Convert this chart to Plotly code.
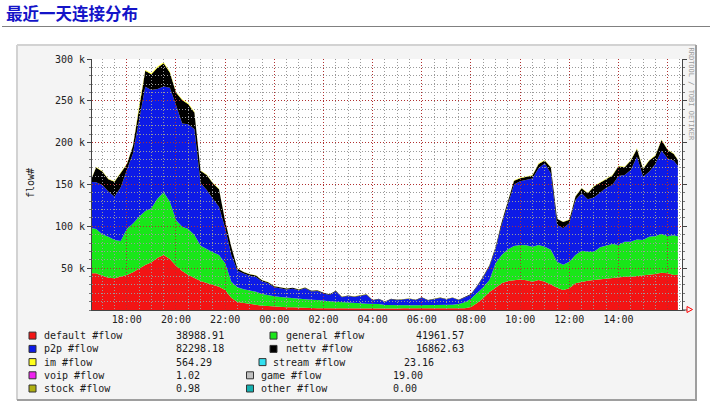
import plotly.graph_objects as go
from datetime import datetime, timedelta

# ---------------- data (values in thousands of flows) ----------------
sample_times = [
    "16:35", "16:45",
    "17:00", "17:15", "17:30", "17:45", "18:00", "18:15", "18:30", "18:45",
    "19:00", "19:15", "19:30", "19:45", "20:00", "20:15", "20:30", "20:45",
    "21:00", "21:15", "21:30", "21:45", "22:00", "22:15", "22:30", "22:45",
    "23:00", "23:15", "23:30", "23:45", "00:00", "00:15", "00:30", "00:45",
    "01:00", "01:15", "01:30", "01:45", "02:00", "02:15", "02:30", "02:45",
    "03:00", "03:15", "03:30", "03:45", "04:00", "04:15", "04:30", "04:45",
    "05:00", "05:15", "05:30", "05:45", "06:00", "06:15", "06:30", "06:45",
    "07:00", "07:15", "07:30", "07:45", "08:00", "08:15", "08:30", "08:45",
    "09:00", "09:15", "09:30", "09:45", "10:00", "10:15", "10:30", "10:45",
    "11:00", "11:15", "11:30", "11:45", "12:00", "12:15", "12:30", "12:45",
    "13:00", "13:15", "13:30", "13:45", "14:00", "14:15", "14:30", "14:45",
    "15:00", "15:15", "15:30", "15:45", "16:00", "16:15", "16:25",
]

default_k = [
    43.8, 43.8, 41.0, 38.6, 37.8, 39.4, 41.8, 45.0, 49.8, 53.8, 57.0, 62.5,
    65.7, 61.0, 53.0, 46.6, 41.8, 37.8, 34.7, 32.3, 29.9, 27.9, 23.9, 14.7,
    9.6, 8.4, 7.2, 6.0, 5.2, 4.8, 4.0, 3.6, 3.2, 3.2, 2.8, 2.8, 2.4, 2.2, 2.2,
    2.1, 2.0, 2.1, 1.9, 2.0, 2.0, 1.9, 2.0, 2.0, 1.9,
    2.0, 1.9, 2.0, 2.0, 1.9, 2.0, 2.0, 2.0, 2.1, 2.0, 2.0, 2.0,
    2.2, 3.6, 8.4, 14.3, 21.5, 26.7, 31.9, 34.6, 35.9, 36.6, 35.5,
    33.9, 35.9, 33.9, 30.5, 26.7, 23.9, 25.9, 31.9, 33.9, 35.1, 35.9, 36.7,
    37.8, 37.8, 39.0, 39.8, 39.8, 40.6, 41.8, 41.8, 43.0, 44.6, 43.8, 41.8, 42.0,
]
general_k = [
    53.8, 53.0, 49.4, 49.0, 45.8, 43.0, 55.0, 58.5, 61.7, 64.5, 64.5, 70.9,
    74.9, 68.5, 54.6, 53.0, 55.0, 51.8, 42.2, 40.2, 39.0, 37.8, 31.9, 19.2,
    17.5, 16.3, 15.9, 15.9, 13.9, 12.7, 12.3, 11.9, 11.5, 11.1, 11.1, 10.3,
    9.9, 9.8, 8.6, 8.4, 8.0, 7.2, 6.8, 6.4, 6.0, 5.6, 5.2, 5.2, 4.0,
    3.6, 3.6, 3.6, 3.6, 3.8, 3.8, 3.8, 3.8, 4.0, 4.0, 4.4, 5.2,
    7.0, 9.9, 11.9, 12.8, 14.4, 29.1, 33.8, 37.9, 40.6, 41.1, 41.8,
    41.8, 41.8, 41.8, 41.5, 31.1, 30.3, 31.9, 33.8, 37.0, 34.6, 33.8, 38.2,
    38.7, 41.1, 38.7, 41.9, 41.9, 43.8, 41.9, 45.8, 45.4, 46.2, 44.6, 47.4, 46.0,
]
p2p_k = [
    55.4, 55.8, 59.0, 53.9, 51.9, 63.9, 70.5, 83.7, 115.5, 148.6, 141.4, 130.6,
    126.4, 136.2, 137.4, 123.4, 125.2, 126.4, 74.5, 70.9, 63.8, 57.8, 41.8, 31.8,
    19.9, 18.8, 17.9, 17.6, 14.9, 14.5, 11.0, 10.3, 9.9, 11.1, 9.6, 12.8,
    9.7, 10.8, 8.9, 7.4, 12.1, 5.9, 7.9, 7.1, 9.1, 10.7, 4.2, 5.6, 3.8,
    7.3, 6.2, 6.9, 7.7, 6.0, 8.7, 5.6, 7.5, 8.3, 6.5, 8.1, 4.6,
    6.0, 4.8, 7.7, 11.9, 16.1, 17.2, 36.3, 54.5, 73.5, 76.3, 78.2,
    81.6, 91.6, 99.6, 91.0, 43.8, 43.4, 45.8, 65.8, 68.5, 62.6, 64.9, 65.3,
    69.7, 70.5, 82.4, 79.6, 85.6, 98.8, 75.6, 77.7, 86.1, 99.6, 92.8, 89.3, 84.0,
]
nettv_k = [
    5.4, 17.7, 16.0, 14.9, 17.9, 17.1, 7.0, 9.0, 17.0, 19.0, 19.0, 25.8,
    27.8, 18.2, 15.0, 28.0, 24.0, 20.1, 14.9, 17.9, 18.7, 20.9, 8.9, 9.9,
    2.5, 2.0, 1.7, 1.6, 1.6, 1.3, 1.2, 1.1, 1.1, 1.1, 1.0, 1.0,
    0.9, 0.9, 0.9, 0.8, 0.9, 0.7, 0.7, 0.7, 0.7, 0.7, 0.5, 0.6, 0.5,
    0.5, 0.5, 0.6, 0.5, 0.5, 0.6, 0.5, 0.5, 0.6, 0.5, 0.5, 0.5,
    0.6, 0.7, 1.0, 1.4, 1.6, 2.4, 3.1, 3.5, 4.4, 3.4, 3.9,
    3.4, 5.3, 3.3, 7.3, 7.5, 7.6, 4.4, 4.3, 6.2, 7.3, 13.0, 11.8,
    10.5, 11.3, 11.7, 9.3, 11.3, 9.2, 9.3, 13.3, 10.0, 12.7, 9.9, 7.9, 7.3,
]
im_k = [
    0.6, 0.7, 0.6, 0.6, 0.6, 0.6, 0.7, 0.8, 1.0, 1.1, 1.1, 1.2,
    1.2, 1.1, 1.0, 1.0, 1.0, 0.9, 0.7, 0.7, 0.6, 0.6, 0.5, 0.4,
    0.3, 0.3, 0.3, 0.3, 0.2, 0.2, 0.2, 0.2, 0.2, 0.2, 0.2, 0.2,
    0.2, 0.2, 0.1, 0.1, 0.1, 0.1, 0.1, 0.1, 0.1, 0.1, 0.1, 0.1, 0.1,
    0.1, 0.1, 0.1, 0.1, 0.1, 0.1, 0.1, 0.1, 0.1, 0.1, 0.1, 0.1,
    0.1, 0.1, 0.1, 0.2, 0.2, 0.3, 0.4, 0.5, 0.6, 0.6, 0.6,
    0.6, 0.7, 0.7, 0.7, 0.4, 0.4, 0.4, 0.5, 0.6, 0.6, 0.6, 0.6,
    0.6, 0.6, 0.7, 0.7, 0.7, 0.8, 0.7, 0.7, 0.7, 0.8, 0.8, 0.8, 0.7,
]

legend_names = ["default #flow", "general #flow", "p2p #flow", "nettv #flow",
                "im #flow", "stream #flow", "voip #flow", "game #flow",
                "stock #flow", "other #flow"]
legend_values = ["38988.91", "41961.57", "82298.18", "16862.63", "564.29",
                 "23.16", "1.02", "19.00", "0.98", "0.00"]

x_tick_labels = ["18:00", "20:00", "22:00", "00:00", "02:00", "04:00",
                 "06:00", "08:00", "10:00", "12:00", "14:00"]
y_tick_values = [50000, 100000, 150000, 200000, 250000, 300000]
y_tick_labels = ["50 k", "100 k", "150 k", "200 k", "250 k", "300 k"]

# ---------------- styles ----------------
colors = {
    "default #flow": "#f21414", "general #flow": "#19e619", "p2p #flow": "#0d1be6",
    "nettv #flow": "#000000", "im #flow": "#ffff1a", "stream #flow": "#33e0f0",
    "voip #flow": "#ee22ee", "game #flow": "#c0c0c0", "stock #flow": "#b0b010",
    "other #flow": "#14b0b0",
}
W_FIG, H_FIG = 712, 409
L, R, T, B = 92, 682, 59, 310
PW, PH = R - L, B - T
MONO = "DejaVu Sans Mono"


def px(x):
    return (x - L) / PW


def py(y):
    return (B - y) / PH


def to_datetimes(labels):
    out, day, prev = [], datetime(2010, 3, 1), None
    for s in labels:
        h, m = map(int, s.split(":"))
        t = day.replace(hour=h, minute=m)
        if prev is not None and t < prev:
            day += timedelta(days=1)
            t = day.replace(hour=h, minute=m)
        out.append(t)
        prev = t
    return out


ts = to_datetimes(sample_times)
x_start = datetime(2010, 3, 1, 16, 35)
x_end = x_start + timedelta(hours=24)
tick_dts = to_datetimes(x_tick_labels)

fig = go.Figure()
for name, vals in [("default #flow", default_k), ("general #flow", general_k),
                   ("p2p #flow", p2p_k), ("nettv #flow", nettv_k), ("im #flow", im_k)]:
    fig.add_trace(go.Scatter(
        x=ts, y=[v * 1000 for v in vals], name=name, stackgroup="one", mode="lines",
        line=dict(width=0, color=colors[name]), fillcolor=colors[name],
        showlegend=False, hoverinfo="skip"))

# empty trace so the grid-overlay subplot exists
fig.add_trace(go.Scatter(x=[], y=[], xaxis="x2", yaxis="y2", showlegend=False, hoverinfo="skip"))

shapes = []
# outer rrdtool-style box
shapes.append(dict(type="rect", xref="paper", yref="paper", layer="below",
                   x0=px(17), x1=px(696), y0=py(400), y1=py(45),
                   fillcolor="#f4f4f4", line=dict(width=0)))
shapes.append(dict(type="line", xref="paper", yref="paper", layer="below",
                   x0=px(17), x1=px(696), y0=py(45), y1=py(45), line=dict(color="#d2d2d2", width=2)))
shapes.append(dict(type="line", xref="paper", yref="paper", layer="below",
                   x0=px(17), x1=px(17), y0=py(45), y1=py(400), line=dict(color="#d2d2d2", width=2)))
shapes.append(dict(type="line", xref="paper", yref="paper", layer="below",
                   x0=px(17), x1=px(697), y0=py(400), y1=py(400), line=dict(color="#9e9e9e", width=2)))
shapes.append(dict(type="line", xref="paper", yref="paper", layer="below",
                   x0=px(696), x1=px(696), y0=py(45), y1=py(401), line=dict(color="#9e9e9e", width=2)))
# canvas
shapes.append(dict(type="rect", xref="paper", yref="paper", layer="below",
                   x0=0, x1=1, y0=0, y1=1, fillcolor="#ffffff", line=dict(width=0)))
# title rule
shapes.append(dict(type="line", xref="paper", yref="paper",
                   x0=px(2), x1=px(710), y0=py(26.5), y1=py(26.5), line=dict(color="#808080", width=1)))
# x-axis extension + arrow
shapes.append(dict(type="line", xref="paper", yref="paper",
                   x0=1, x1=px(687), y0=0, y1=0, line=dict(color="#444444", width=1)))
shapes.append(dict(type="path", xref="paper", yref="paper",
                   path=f"M {px(687)} {py(306.5)} L {px(692.5)} {py(309.5)} L {px(687)} {py(312.5)} Z",
                   line=dict(color="#ff0000", width=1), fillcolor="rgba(0,0,0,0)"))

annotations = []
annotations.append(dict(text="<b>最近一天连接分布</b>", xref="paper", yref="paper",
                        x=px(4), y=py(13), xanchor="left", yanchor="middle", showarrow=False,
                        font=dict(family="Noto Sans CJK SC", size=16.5, color="#1414c8")))
annotations.append(dict(text="flow#", xref="paper", yref="paper", x=px(30), y=py(183),
                        xanchor="center", yanchor="middle", showarrow=False, textangle=-90,
                        font=dict(family=MONO, size=10, color="#222222")))
annotations.append(dict(text="RRDTOOL / TOBI OETIKER", xref="paper", yref="paper",
                        x=px(690.5), y=py(94), xanchor="center", yanchor="middle",
                        showarrow=False, textangle=90,
                        font=dict(family=MONO, size=7, color="#9a9a9a")))

# legend layout: (row, swatch x, text x, value x)
legend_pos = [(0, 29, 43, 175), (0, 270, 285, 415), (1, 29, 43, 175), (1, 270, 285, 415),
              (2, 29, 43, 175), (2, 259, 272.5, 403), (3, 29, 43, 175), (3, 246.5, 260, 392),
              (4, 29, 43, 175), (4, 246.5, 260, 392)]
row_y = [335.6, 348.9, 362.1, 375.3, 388.5]
for name, val, (r, sx, tx, vx) in zip(legend_names, legend_values, legend_pos):
    yc = row_y[r]
    shapes.append(dict(type="rect", xref="paper", yref="paper",
                       x0=px(sx), x1=px(sx + 7), y0=py(yc + 3.5), y1=py(yc - 3.5),
                       fillcolor=colors[name], line=dict(color="#333333", width=1)))
    annotations.append(dict(text=name, xref="paper", yref="paper", x=px(tx - 1.5), y=py(yc),
                            xanchor="left", yanchor="middle", showarrow=False,
                            font=dict(family=MONO, size=10, color="#1a1a1a")))
    annotations.append(dict(text=val, xref="paper", yref="paper", x=px(vx - 1.5), y=py(yc),
                            xanchor="left", yanchor="middle", showarrow=False,
                            font=dict(family=MONO, size=10, color="#1a1a1a")))

fig.update_layout(
    width=W_FIG, height=H_FIG, autosize=False,
    margin=dict(l=L, r=W_FIG - R, t=T, b=H_FIG - B, pad=0),
    paper_bgcolor="#ffffff", plot_bgcolor="rgba(0,0,0,0)",
    showlegend=False, shapes=shapes, annotations=annotations,
    xaxis=dict(type="date", range=[x_start, x_end], showgrid=False, zeroline=False,
               tickvals=tick_dts, ticktext=x_tick_labels, ticks="",
               tickfont=dict(family=MONO, size=10, color="#222222"),
               showline=True, linecolor="#444444", linewidth=1),
    yaxis=dict(range=[0, 300000], showgrid=False, zeroline=False,
               tickvals=y_tick_values, ticktext=y_tick_labels,
               ticks="outside", ticklen=4, tickcolor="#444444",
               tickfont=dict(family=MONO, size=10, color="#222222"),
               showline=True, linecolor="#444444", linewidth=1, mirror="ticks",
               minor=dict(dtick=10000, ticks="outside", ticklen=2, tickcolor="#777777", showgrid=False)),
    xaxis2=dict(type="date", range=[x_start, x_end], anchor="y2", domain=[0, 1],
                dtick=7200000, tick0="2010-03-01 00:00", showticklabels=False, ticks="",
                showgrid=True, gridcolor="#b03030", griddash="1px,2px", gridwidth=1,
                zeroline=False, showline=False,
                minor=dict(dtick=1800000, showgrid=True, gridcolor="#9a9a9a",
                           griddash="1px,2px", gridwidth=1, ticks="")),
    yaxis2=dict(range=[0, 300000], anchor="x2", domain=[0, 1], dtick=50000, tick0=0,
                showticklabels=False, ticks="", showgrid=True, gridcolor="#b03030",
                griddash="1px,2px", gridwidth=1, zeroline=False, showline=False,
                minor=dict(dtick=10000, showgrid=True, gridcolor="#9a9a9a",
                           griddash="1px,2px", gridwidth=1, ticks="")),
)

fig.write_html("out.html")
